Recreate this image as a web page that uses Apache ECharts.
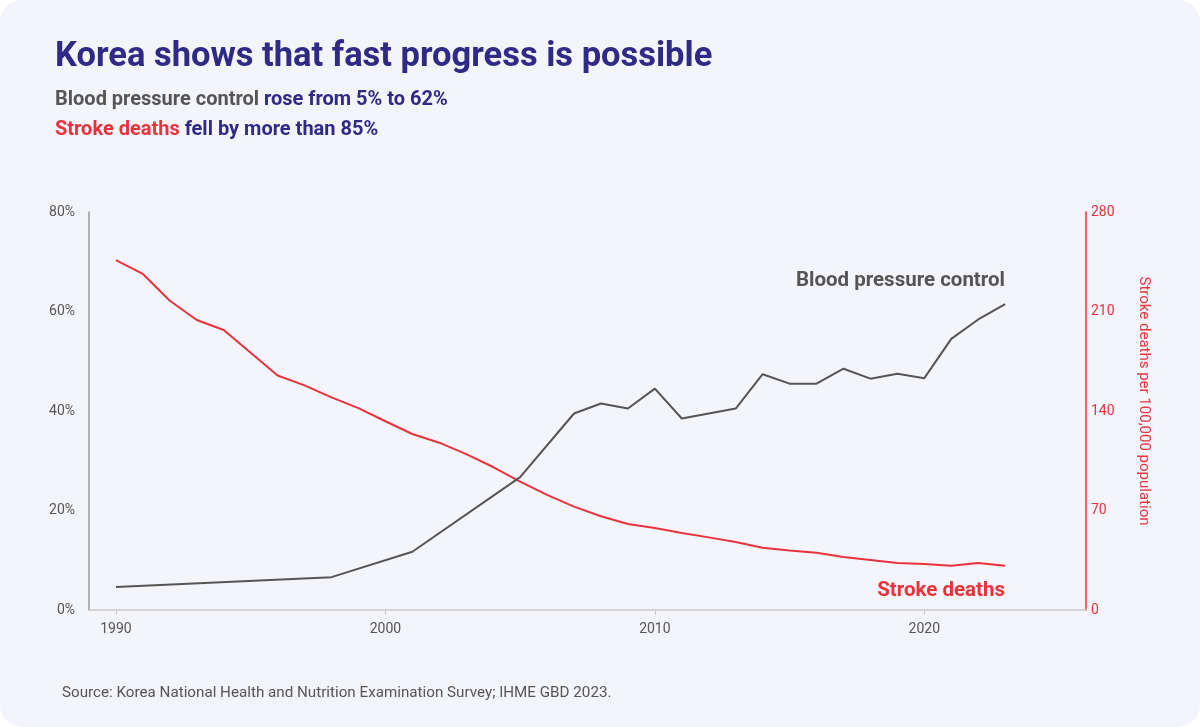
<!DOCTYPE html>
<html lang="en">
<head>
    <meta charset="UTF-8">
    <script src="https://cdn.jsdelivr.net/npm/echarts@6/dist/echarts.min.js"></script>
    <title>Korea shows that fast progress is possible</title>
</head>
<style>
    html, body {
        margin: 0;
        padding: 0;
        background: #ffffff;
    }
    #main {
        width: 1200px;
        height: 727px;
        background: #f4f5fb;
        border-radius: 22px;
        overflow: hidden;
    }
</style>
<body>
    <div id="main"></div>
</body>
<script>
    // blood pressure control, % (survey years only)
    let bpYears = [1990, 1998, 2001, 2005, 2007, 2008, 2009, 2010, 2011, 2012, 2013, 2014, 2015, 2016, 2017, 2018, 2019, 2020, 2021, 2022, 2023];
    let bpValues = [4.6, 6.6, 11.7, 26.7, 39.5, 41.5, 40.5, 44.5, 38.5, 39.5, 40.5, 47.4, 45.5, 45.5, 48.5, 46.5, 47.5, 46.6, 54.5, 58.4, 61.5];

    // stroke deaths per 100,000 population
    let strokeYears = [1990, 1991, 1992, 1993, 1994, 1995, 1996, 1997, 1998, 1999, 2000, 2001, 2002, 2003, 2004, 2005, 2006, 2007, 2008, 2009, 2010, 2011, 2012, 2013, 2014, 2015, 2016, 2017, 2018, 2019, 2020, 2021, 2022, 2023];
    let strokeValues = [246.2, 236.4, 217.6, 204, 197, 181, 165, 158, 149.6, 142, 132.8, 123.8, 117.7, 109.7, 100.6, 90.3, 81, 72.7, 66, 60.5, 57.7, 54.2, 51.1, 47.8, 43.8, 41.9, 40.3, 37.3, 35.2, 33.1, 32.4, 31.2, 33.1, 31.2];

    let yearTicks = [1990, 2000, 2010, 2020];

    const GREY = '#555555';
    const RED = '#e8333d';
    const PURPLE = '#2f2a86';
    const FONT = 'Roboto';

    let myChart = echarts.init(document.getElementById('main'));

    let option = {
        backgroundColor: 'transparent',
        textStyle: { fontFamily: FONT },
        title: [{
            text: 'Korea shows that fast progress is possible',
            left: 50,
            top: 35,
            textStyle: { color: PURPLE, fontSize: 34.5, fontWeight: 700, fontFamily: FONT }
        }, {
            text: '{g|Blood pressure control} {p|rose from 5% to 62%}\n{r|Stroke deaths} {p|fell by more than 85%}',
            left: 50,
            top: 80,
            textStyle: {
                fontSize: 20,
                lineHeight: 30,
                rich: {
                    g: { color: GREY, fontSize: 20, fontWeight: 700, fontFamily: FONT, lineHeight: 30 },
                    r: { color: RED, fontSize: 20, fontWeight: 700, fontFamily: FONT, lineHeight: 30 },
                    p: { color: PURPLE, fontSize: 20, fontWeight: 700, fontFamily: FONT, lineHeight: 30 }
                }
            }
        }, {
            text: 'Source: Korea National Health and Nutrition Examination Survey; IHME GBD 2023.',
            left: 57,
            top: 681,
            textStyle: { color: GREY, fontSize: 15.2, fontWeight: 400, fontFamily: FONT }
        }],
        grid: {
            left: 89,
            right: 114,
            top: 212,
            bottom: 117
        },
        xAxis: {
            type: 'value',
            min: 1989,
            max: 2026,
            splitLine: { show: false },
            axisLine: { lineStyle: { color: '#c9c9cc', width: 1.5 } },
            axisTick: {
                customValues: yearTicks,
                length: 5,
                lineStyle: { color: '#c9c9cc' }
            },
            axisLabel: {
                customValues: yearTicks,
                color: GREY,
                fontSize: 14,
                margin: 12,
                formatter: v => String(v)
            }
        },
        yAxis: [{
            type: 'value',
            min: 0,
            max: 80,
            interval: 20,
            position: 'left',
            splitLine: { show: false },
            axisLine: { show: true, lineStyle: { color: '#9a9a9e', width: 1.5 } },
            axisTick: { show: false },
            axisLabel: {
                color: GREY,
                fontSize: 14,
                margin: 14,
                formatter: '{value}%'
            }
        }, {
            type: 'value',
            min: 0,
            max: 280,
            interval: 70,
            position: 'right',
            splitLine: { show: false },
            axisLine: { show: true, lineStyle: { color: RED, width: 1.5 } },
            axisTick: { show: false },
            axisLabel: {
                color: RED,
                fontSize: 14,
                margin: 5
            },
            name: 'Stroke deaths per 100,000 population',
            nameLocation: 'middle',
            nameRotate: -90,
            nameGap: 50,
            nameTextStyle: {
                color: RED,
                fontSize: 15,
                padding: [0, 20, 0, 0]
            }
        }],
        graphic: [{
            type: 'text',
            right: 195,
            top: 270,
            style: {
                text: 'Blood pressure control',
                fill: GREY,
                font: '700 20.5px ' + FONT
            }
        }, {
            type: 'text',
            right: 195,
            top: 580,
            style: {
                text: 'Stroke deaths',
                fill: RED,
                font: '700 20.5px ' + FONT
            }
        }],
        series: [{
            name: 'Blood pressure control',
            type: 'line',
            yAxisIndex: 0,
            data: bpYears.map((y, i) => [y, bpValues[i]]),
            showSymbol: false,
            lineStyle: { color: GREY, width: 2 },
            itemStyle: { color: GREY },
            z: 3
        }, {
            name: 'Stroke deaths',
            type: 'line',
            yAxisIndex: 1,
            data: strokeYears.map((y, i) => [y, strokeValues[i]]),
            showSymbol: false,
            lineStyle: { color: RED, width: 2 },
            itemStyle: { color: RED },
            z: 2
        }]
    };

    myChart.setOption(option);
</script>
</html>
